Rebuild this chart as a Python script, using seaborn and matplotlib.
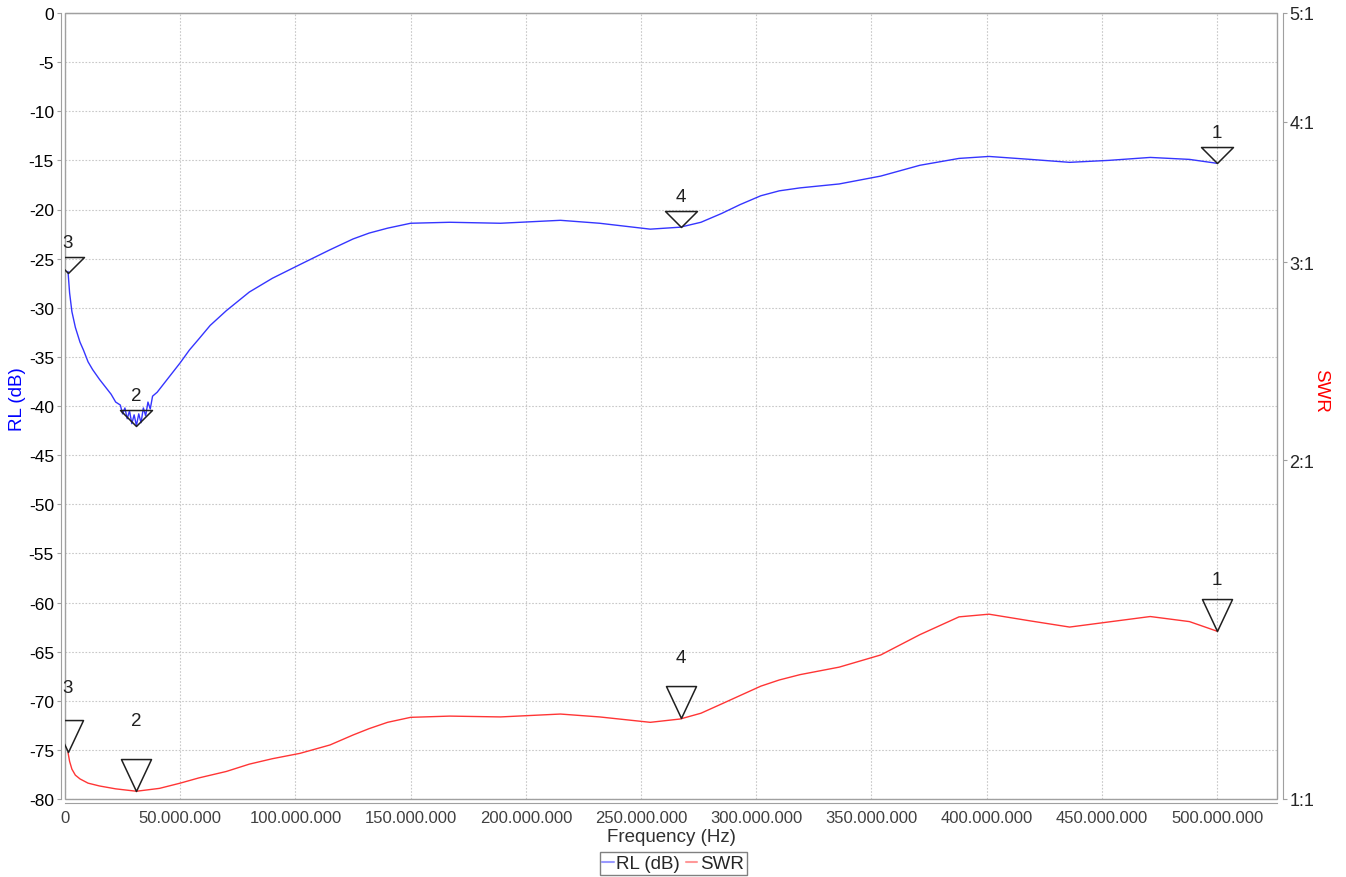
import matplotlib
matplotlib.use("Agg")
import matplotlib.pyplot as plt
import matplotlib.ticker as mticker
from matplotlib.path import Path
from matplotlib.lines import Line2D
import seaborn as sns
import pandas as pd

# RL trace (frequency in MHz, return loss in dB)
rl_freq_mhz = [1.3, 2, 3, 4.5, 6.5, 8, 10, 12, 15, 18, 20, 22, 24, 25, 26, 27, 28, 29, 30,
               31, 32, 33, 34, 35, 36, 37, 38, 40, 42, 44, 47, 50, 54, 58, 63, 70, 80, 90,
               102, 115, 125, 132, 140, 150, 167, 189, 215, 232, 254, 267, 276, 285, 293,
               302, 310, 319, 336, 354, 371, 388, 401, 419, 436, 453, 471, 488, 500]
rl_db = [-26.3, -28.5, -30.4, -32.0, -33.5, -34.3, -35.5, -36.3, -37.3, -38.2, -38.8, -39.6,
         -39.9, -40.8, -40.2, -41.3, -40.5, -41.8, -40.9, -42.0, -40.8, -41.7, -40.2, -41.0,
         -39.6, -40.3, -39.0, -38.6, -38.0, -37.4, -36.5, -35.6, -34.3, -33.2, -31.8, -30.3,
         -28.4, -27.0, -25.6, -24.1, -23.0, -22.4, -21.9, -21.4, -21.3, -21.4, -21.1, -21.4,
         -22.0, -21.8, -21.3, -20.4, -19.5, -18.6, -18.1, -17.8, -17.4, -16.6, -15.5, -14.8,
         -14.6, -14.9, -15.2, -15.0, -14.7, -14.9, -15.3]

# SWR trace
swr_freq_mhz = [1.3, 2, 3, 4.5, 6.5, 10, 15, 22, 31, 41, 50, 58, 70, 80, 90, 102, 115, 125,
                132, 140, 150, 167, 189, 215, 232, 254, 267, 276, 285, 293, 302, 310, 319,
                336, 354, 371, 388, 401, 419, 436, 453, 471, 488, 500]
swr = [1.10, 1.08, 1.063, 1.05, 1.042, 1.033, 1.027, 1.021, 1.016, 1.022, 1.033, 1.044,
       1.058, 1.074, 1.086, 1.098, 1.117, 1.14, 1.155, 1.17, 1.182, 1.185, 1.183, 1.19,
       1.183, 1.17, 1.178, 1.192, 1.215, 1.236, 1.26, 1.276, 1.29, 1.31, 1.343, 1.40,
       1.452, 1.46, 1.44, 1.422, 1.437, 1.453, 1.438, 1.41]

# markers
marker_names = ["1", "2", "3", "4"]
marker_freq_mhz = [500, 31, 1.3, 267.4]
marker_rl = [-15.3, -42.0, -26.5, -21.8]
marker_swr = [1.41, 1.016, 1.10, 1.18]
swr_label_dy = [37, 51, 47, 44]

swr_ticks = [1, 2, 3, 4, 5]
swr_tick_labels = ["1:1", "2:1", "3:1", "4:1", "5:1"]

df_rl = pd.DataFrame({"freq": [f * 1e6 for f in rl_freq_mhz], "rl": rl_db})
df_swr = pd.DataFrame({"freq": [f * 1e6 for f in swr_freq_mhz], "swr": swr})

sns.set_style("white")
plt.rcParams["font.family"] = ["Liberation Sans", "DejaVu Sans"]
plt.rcParams["axes.unicode_minus"] = False

fig = plt.figure(figsize=(13.46, 8.78), dpi=100)
ax = fig.add_axes([65 / 1346, 1 - 800 / 878, (1277 - 65) / 1346, (800 - 14) / 878])
ax2 = ax.twinx()

blue = "#3535ff"
red = "#ff3535"
gray = "#a0a0a0"

sns.lineplot(data=df_rl, x="freq", y="rl", ax=ax, color=blue, linewidth=1, legend=False)
sns.lineplot(data=df_swr, x="freq", y="swr", ax=ax2, color=red, linewidth=1, legend=False)

ax.set_xlim(0, 526e6)
ax.set_ylim(-80, 0)
ax.set_yticks(range(-80, 1, 5))
ax.set_xticks([i * 50e6 for i in range(11)])
ax.xaxis.set_major_formatter(mticker.FuncFormatter(lambda v, p: f"{int(round(v)):,}".replace(",", ".")))

ax2.set_yscale("log")
ax2.set_ylim(1, 5)
ax2.set_yticks(swr_ticks)
ax2.set_yticklabels(swr_tick_labels)
ax2.yaxis.set_minor_locator(mticker.NullLocator())

ax.grid(True, color="#c8c8c8", linestyle=(0, (1.5, 1.5)), linewidth=0.8)
ax2.grid(False)

# frame and offset axis lines
ax.add_patch(plt.Rectangle((0, 0), 1, 1, transform=ax.transAxes, fill=False,
                           edgecolor=gray, linewidth=1, zorder=5, clip_on=False))
for s in ["left", "bottom"]:
    ax.spines[s].set_position(("outward", 3))
    ax.spines[s].set_color(gray)
ax.spines["top"].set_color(gray)
ax.spines["right"].set_visible(False)
for s in ["left", "bottom", "top"]:
    ax2.spines[s].set_visible(False)
ax2.spines["right"].set_position(("outward", 4))
ax2.spines["right"].set_color(gray)

ax.tick_params(axis="y", labelsize=12.5, colors="black", length=3, color=gray, pad=2)
ax.tick_params(axis="x", labelsize=12, labelcolor="#404040", length=3, color=gray, pad=2)
ax2.tick_params(axis="y", labelsize=13, length=3, color=gray, pad=2)

ax.set_xlabel("Frequency (Hz)", fontsize=13.5, color="#303030", labelpad=2)
ax.set_ylabel("RL (dB)", fontsize=13.5, color="#0000ff", va="center")
ax.yaxis.set_label_coords(-0.039, 0.51)
ax2.set_ylabel("SWR", fontsize=13.5, color="#ff0000", rotation=-90, va="center")
ax2.yaxis.set_label_coords(1.036, 0.52)

# open triangle markers with the tip on the data point
rl_tri = Path([(-1, 1), (1, 1), (0, 0), (-1, 1)], [Path.MOVETO, Path.LINETO, Path.LINETO, Path.CLOSEPOLY])
swr_tri = Path([(-0.47, 1), (0.47, 1), (0, 0), (-0.47, 1)], [Path.MOVETO, Path.LINETO, Path.LINETO, Path.CLOSEPOLY])

for name, f, v in zip(marker_names, marker_freq_mhz, marker_rl):
    ax.plot([f * 1e6], [v], marker=rl_tri, markersize=23, markerfacecolor="none",
            markeredgecolor="#202020", markeredgewidth=1.1, linestyle="none", zorder=6)
    ax.annotate(name, xy=(f * 1e6, v), xytext=(0, 22), textcoords="offset points",
                ha="center", va="center", fontsize=13.5, color="#202020", zorder=6)

for name, f, v, dy in zip(marker_names, marker_freq_mhz, marker_swr, swr_label_dy):
    ax2.plot([f * 1e6], [v], marker=swr_tri, markersize=46, markerfacecolor="none",
             markeredgecolor="#202020", markeredgewidth=1.1, linestyle="none", zorder=6)
    ax2.annotate(name, xy=(f * 1e6, v), xytext=(0, dy), textcoords="offset points",
                 ha="center", va="center", fontsize=13.5, color="#202020", zorder=6)

handles = [Line2D([], [], color=blue, alpha=0.5, linewidth=1.5),
           Line2D([], [], color=red, alpha=0.5, linewidth=1.5)]
leg = fig.legend(handles, ["RL (dB)", "SWR"], loc="lower center", bbox_to_anchor=(0.5, 0.0),
                 ncol=2, fontsize=13.5, handlelength=0.6, handletextpad=0.15, columnspacing=0.3,
                 borderpad=0.15, borderaxespad=0.1, fancybox=False, framealpha=1)
leg.get_frame().set_edgecolor("#808080")
leg.get_frame().set_linewidth(1)

fig.savefig("out.png", dpi=100)
